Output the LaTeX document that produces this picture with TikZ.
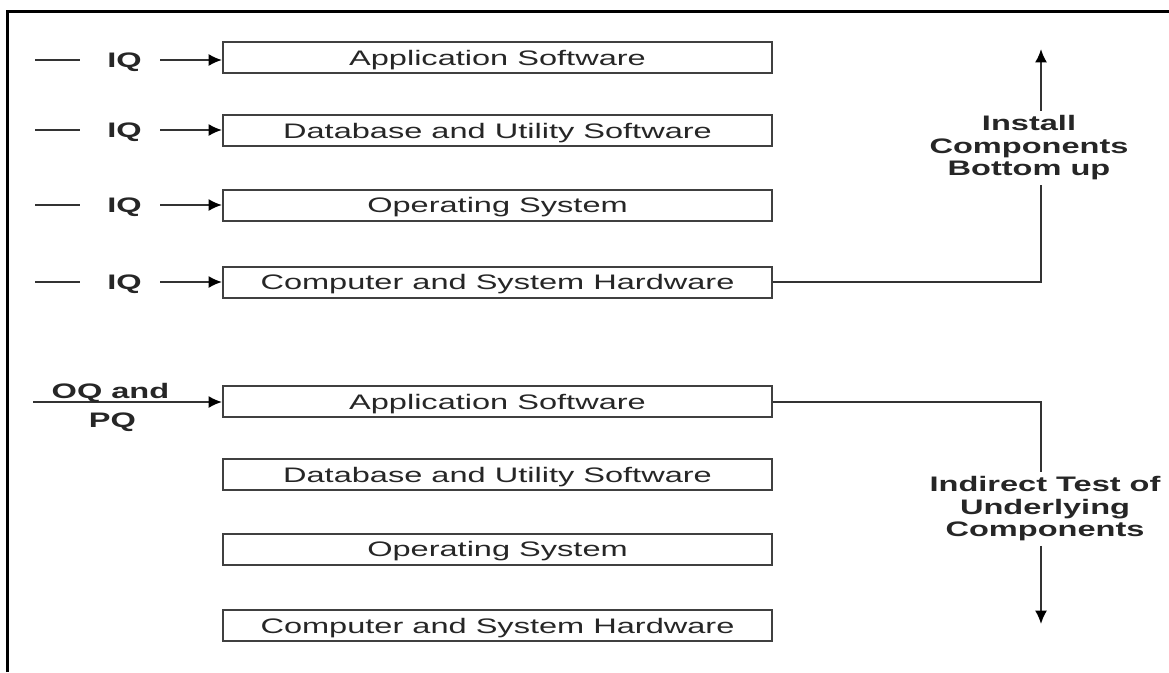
\documentclass[tikz,border=0pt]{standalone}
\usepackage{fontspec}
\setmainfont{Liberation Sans}[FakeStretch=1.55]
\usetikzlibrary{arrows.meta}

\tikzset{every picture/.style={line width=0.75pt}}
\tikzset{
  layerbox/.style={draw=black!75, line width=1.5pt, minimum width=411.75pt, minimum height=23.25pt, inner sep=0pt, text height=11.3pt, text depth=0pt, text=black!85, font=\fontsize{15.75}{17}\selectfont},
  qlabel/.style={inner sep=0.75pt, text height=11.3pt, text depth=0pt, text=black!85, font=\bfseries\fontsize{15.75}{17}\selectfont},
  sidenote/.style={inner sep=3pt, align=center, text=black!85, font=\bfseries\fontsize{15.75}{16.9}\selectfont},
  link/.style={draw=black!80, line width=1.5pt},
  arrowtip/.style={-{Latex[length=10pt,width=9pt,black]}}
}

\begin{document}
\begin{tikzpicture}[x=0.75pt,y=0.75pt,yscale=-1,xscale=1]
\useasboundingbox (0,0) rectangle (1169,672);

% Frame (left and top edges)
\draw [line width=2.25pt] (7,672) -- (7,11) -- (1169,11) ;

% Installation stack
\node [layerbox] (inapp) at (497.5,57.5) {Application Software};
\node [layerbox] (indb) at (497.5,130.5) {Database and Utility Software};
\node [layerbox] (inos) at (497.5,205) {Operating System};
\node [layerbox] (inhw) at (497.5,282) {Computer and System Hardware};

% Test stack
\node [layerbox] (tsapp) at (497.5,401.5) {Application Software};
\node [layerbox] (tsdb) at (497.5,474.5) {Database and Utility Software};
\node [layerbox] (tsos) at (497.5,549) {Operating System};
\node [layerbox] (tshw) at (497.5,625.5) {Computer and System Hardware};

% IQ inputs
\node [qlabel] (iq1) at (124.5,60) {IQ};
\node [qlabel] (iq2) at (124.5,130) {IQ};
\node [qlabel] (iq3) at (124.5,205) {IQ};
\node [qlabel] (iq4) at (124.5,282) {IQ};
\coordinate (iqs1) at (35,60);
\coordinate (iqs2) at (35,130);
\coordinate (iqs3) at (35,205);
\coordinate (iqs4) at (35,282);

\draw [link, shorten >=19.5pt] (iqs1) -- (iq1.west) ;
\draw [link, shorten >=19.5pt] (iqs2) -- (iq2.west) ;
\draw [link, shorten >=19.5pt] (iqs3) -- (iq3.west) ;
\draw [link, shorten >=19.5pt] (iqs4) -- (iq4.west) ;
\draw [link, arrowtip, shorten <=12.75pt] (iq1.east) -- (iq1.east -| inapp.west) ;
\draw [link, arrowtip, shorten <=12.75pt] (iq2.east) -- (iq2.east -| indb.west) ;
\draw [link, arrowtip, shorten <=12.75pt] (iq3.east) -- (iq3.east -| inos.west) ;
\draw [link, arrowtip, shorten <=12.75pt] (iq4.east) -- (iq4.east -| inhw.west) ;

% OQ and PQ input
\coordinate (oqs) at (33,402);
\draw [link, arrowtip] (oqs) -- node [qlabel, pos=0.41, above=1.1pt] (oqtop) {OQ and} node [qlabel, pos=0.42, below=6.4pt] (oqbot) {PQ} (oqs -| tsapp.west) ;

% Install bottom up
\node [sidenote] (upnote) at (1029,148) {Install\\Components\\Bottom up};
\coordinate (upbend) at (1041,282);
\coordinate (uptip) at (1041,49);
\draw [link] (inhw.east) -- (upbend) -- (upbend |- upnote.south) ;
\draw [link, arrowtip] (upbend |- upnote.north) -- (uptip) ;

% Indirect test
\node [sidenote] (downnote) at (1045,509) {Indirect Test of\\Underlying\\Components};
\coordinate (downbend) at (1041,401.5);
\coordinate (downtip) at (1041,624);
\draw [link] (tsapp.east) -- (downbend) -- (downbend |- downnote.north) ;
\draw [link, arrowtip] (downbend |- downnote.south) -- (downtip) ;

\end{tikzpicture}
\end{document}
